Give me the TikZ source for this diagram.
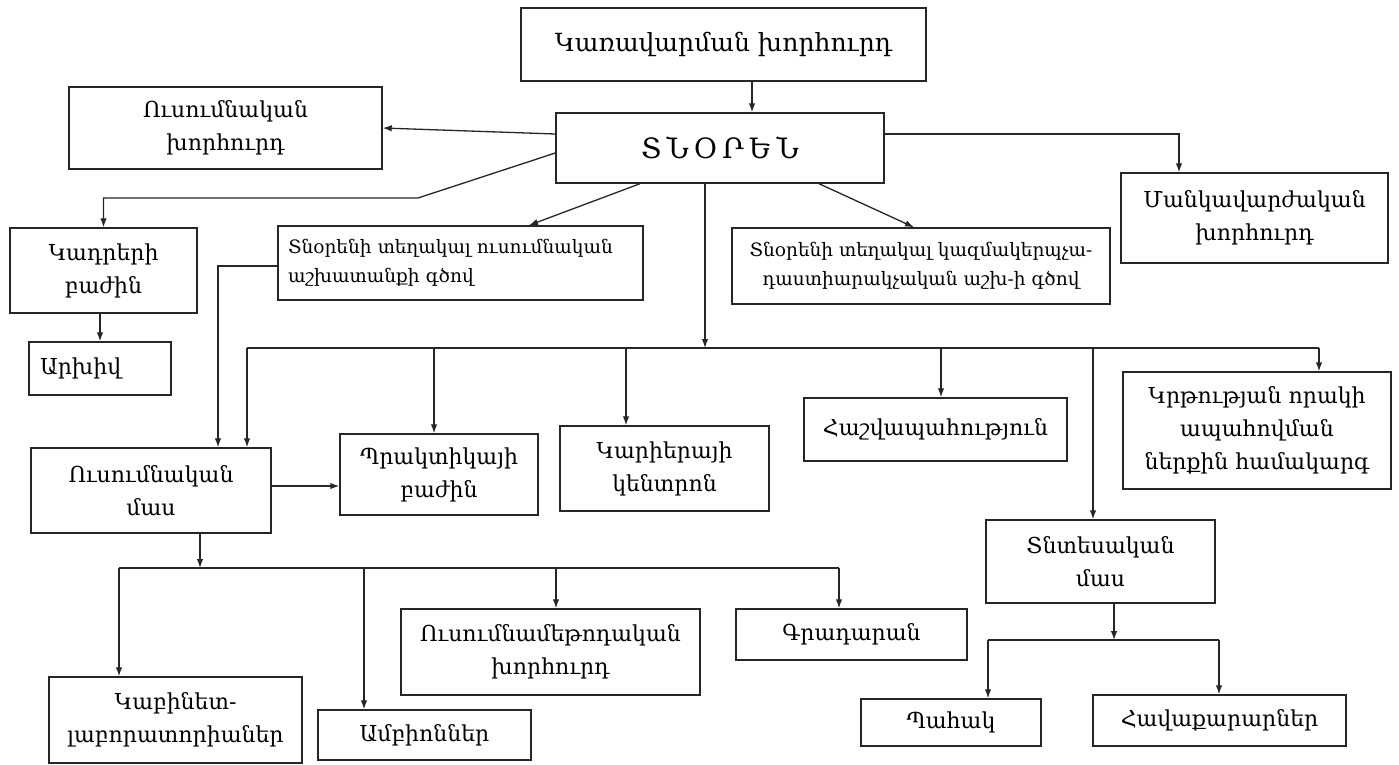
\documentclass[tikz,border=0pt]{standalone}
\usepackage{fontspec}
\setmainfont{DejaVu Serif}
\usetikzlibrary{arrows.meta}
\begin{document}
\begin{tikzpicture}[x=1pt,y=-1pt,
  box/.style={draw=black!85, line width=1.4pt, align=center, inner sep=2pt,
    font=\fontsize{22}{33}\selectfont},
  small/.style={font=\fontsize{18.5}{29}\selectfont},
  arr/.style={draw=black!85, line width=1.3pt, -{Latex[length=9pt,width=6.5pt]}},
  ln/.style={draw=black!85, line width=1.3pt}]
\path[use as bounding box] (0,0) rectangle (1399,765);

% boxes
\node[box, minimum width=405pt, minimum height=73pt, font=\fontsize{25}{33}\selectfont] (board) at (723.5,44.5) {Կառավարման խորհուրդ};
\node[box, minimum width=328pt, minimum height=70pt, font=\fontsize{28}{33}\selectfont] (dir) at (720,148) {Տ\hspace{5pt}Ն\hspace{5pt}Օ\hspace{5pt}Ր\hspace{5pt}Ե\hspace{5pt}Ն};
\node[box, minimum width=313pt, minimum height=82pt] (uk) at (225.5,128) {Ուսումնական\\խորհուրդ};
\node[box, minimum width=267pt, minimum height=90pt] (mank) at (1254.5,218) {Մանկավարժական\\խորհուրդ};
\node[box, minimum width=187pt, minimum height=85pt] (kadr) at (103.5,270.5) {Կադրերի\\բաժին};
\node[box, minimum width=142pt, minimum height=53pt, text width=120pt, inner xsep=11pt, align=left] (arkh) at (100,368.5) {Արխիվ};
\node[box, small, minimum width=365pt, minimum height=74pt, align=left, text width=345pt] (dep1) at (460.5,263) {Տնօրենի տեղակալ ուսումնական\\աշխատանքի գծով};
\node[box, small, minimum width=378pt, minimum height=76pt] (dep2) at (921,266) {Տնօրենի տեղակալ կազմակերպչա-\\դաստիարակչական աշխ-ի գծով};
\node[box, minimum width=240pt, minimum height=85pt] (umas) at (151,490.5) {Ուսումնական\\մաս};
\node[box, minimum width=198pt, minimum height=81pt] (prakt) at (439,474.5) {Պրակտիկայի\\բաժին};
\node[box, minimum width=209pt, minimum height=85pt] (kar) at (664.5,468.5) {Կարիերայի\\կենտրոն};
\node[box, minimum width=263pt, minimum height=63pt] (hash) at (935.5,429.5) {Հաշվապահություն};
\node[box, minimum width=268pt, minimum height=117pt] (krt) at (1257,430.5) {Կրթության որակի\\ապահովման\\ներքին համակարգ};
\node[box, minimum width=229pt, minimum height=83pt] (tnt) at (1100.5,561.5) {Տնտեսական\\մաս};
\node[box, minimum width=299pt, minimum height=86pt] (umet) at (550.5,652) {Ուսումնամեթոդական\\խորհուրդ};
\node[box, minimum width=231pt, minimum height=51pt] (grad) at (851.5,634.5) {Գրադարան};
\node[box, minimum width=253pt, minimum height=86pt] (kab) at (175.5,720) {Կաբինետ-\\լաբորատորիաներ};
\node[box, minimum width=213pt, minimum height=50pt] (amb) at (424.5,735) {Ամբիոններ};
\node[box, minimum width=180pt, minimum height=47pt] (pah) at (951,722.5) {Պահակ};
\node[box, minimum width=253pt, minimum height=51pt] (hav) at (1219.5,720.5) {Հավաքարարներ};

% helper coordinates
\coordinate (xb) at (752,0);
\coordinate (kbend) at (418,198);
\coordinate (mx) at (1179,0);
\coordinate (bus) at (705,348);
\coordinate (busL) at (247,348);
\coordinate (busR) at (1319,348);
\coordinate (bP) at (434,348);
\coordinate (bK) at (626,348);
\coordinate (bH) at (941,348);
\coordinate (bT) at (1093,348);
\coordinate (d1x) at (218,0);
\coordinate (b2) at (200,568);
\coordinate (b2L) at (119,568);
\coordinate (b2A) at (364,568);
\coordinate (b2U) at (556,568);
\coordinate (b2R) at (839,568);
\coordinate (b3) at (1114,640);
\coordinate (b3L) at (988,640);
\coordinate (b3R) at (1219,640);

% connectors from the top
\draw[arr] (board.south -| xb) -- (dir.north -| xb);
\draw[arr] ([yshift=14pt]dir.west) -- (uk.east);
\draw[arr] ([yshift=-5pt]dir.west) -- (kbend) -- (kbend -| kadr.north) -- (kadr.north);
\draw[arr] (arkh.north |- kadr.south) -- (arkh.north);
\draw[arr] ([xshift=-80pt]dir.south) -- ([xshift=68.5pt]dep1.north);
\draw[arr] ([xshift=99pt]dir.south) -- ([xshift=-7pt]dep2.north);
\draw[arr] ([yshift=14pt]dir.east) -| (mx |- mank.north);
\draw[arr] (dir.south -| bus) -- (bus);

% main bus
\draw[ln] (busL) -- (busR);
\draw[arr] (busL) -- (busL |- umas.north);
\draw[arr] (bP) -- (bP |- prakt.north);
\draw[arr] (bK) -- (bK |- kar.north);
\draw[arr] (bH) -- (bH |- hash.north);
\draw[arr] (bT) -- (bT |- tnt.north);
\draw[arr] (busR) -- (busR |- krt.north);

% deputy to educational part
\draw[arr] ([yshift=-3pt]dep1.west) -| (d1x |- umas.north);
\draw[arr] ([yshift=4.5pt]umas.east) -- ([yshift=4.5pt]umas.east -| prakt.west);

% educational part bus
\draw[arr] (umas.south -| b2) -- (b2);
\draw[ln] (b2L) -- (b2R);
\draw[arr] (b2L) -- (b2L |- kab.north);
\draw[arr] (b2A) -- (b2A |- amb.north);
\draw[arr] (b2U) -- (b2U |- umet.north);
\draw[arr] (b2R) -- (b2R |- grad.north);

% economic part bus
\draw[arr] (tnt.south -| b3) -- (b3);
\draw[ln] (b3L) -- (b3R);
\draw[arr] (b3L) -- (b3L |- pah.north);
\draw[arr] (b3R) -- (b3R |- hav.north);
\end{tikzpicture}
\end{document}
